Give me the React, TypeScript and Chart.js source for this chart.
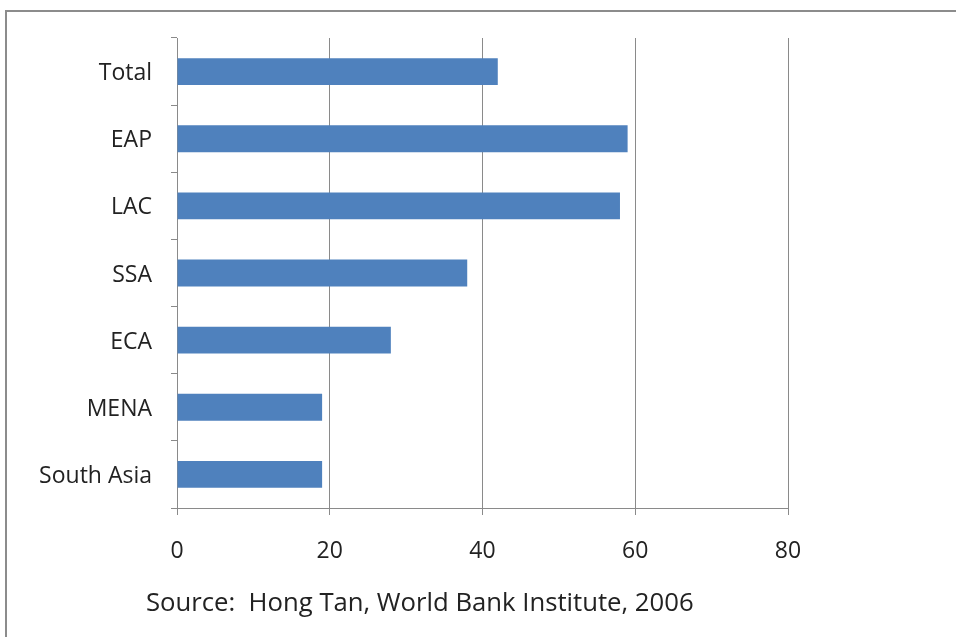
import React, { useEffect, useRef } from "react";
import { Chart, registerables } from "chart.js";

Chart.register(...registerables);

const categories: string[] = ["Total", "EAP", "LAC", "SSA", "ECA", "MENA", "South Asia"];
const values: number[] = [42, 59, 58, 38, 28, 19, 19];
const xTicks: number[] = [0, 20, 40, 60, 80];
const sourceText = "Source:  Hong Tan, World Bank Institute, 2006";

const FONT = "'Open Sans', sans-serif";

export default function App() {
  const ref = useRef<HTMLCanvasElement | null>(null);
  useEffect(() => {
    if (!ref.current) return;
    const chart = new Chart(ref.current, {
      type: "bar",
      data: {
        labels: categories,
        datasets: [
          {
            data: values,
            backgroundColor: "#4F81BD",
            borderWidth: 0,
            barPercentage: 0.4,
            categoryPercentage: 1,
          },
        ],
      },
      options: {
        indexAxis: "y",
        animation: false,
        responsive: false,
        devicePixelRatio: 1,
        layout: { padding: { left: 0, top: 38, right: 168, bottom: 59 } },
        plugins: { legend: { display: false }, tooltip: { enabled: false }, title: { display: false } },
        scales: {
          y: {
            type: "category",
            afterFit: (s: any) => {
              s.width = 177;
            },
            grid: { drawOnChartArea: false, drawTicks: true, tickLength: 6, color: "#8a8a8a", offset: true },
            border: { color: "#8a8a8a", width: 1 },
            ticks: { padding: 19, labelOffset: 2, color: "#222", font: { family: FONT, size: 23 } },
          },
          x: {
            type: "linear",
            min: 0,
            max: 80,
            afterFit: (s: any) => {
              s.height = 70;
            },
            afterBuildTicks: (s: any) => {
              s.ticks = xTicks.map((v) => ({ value: v }));
            },
            grid: { color: "#8a8a8a", tickLength: 7 },
            border: { color: "#8a8a8a", width: 1 },
            ticks: { padding: 23, color: "#222", font: { family: FONT, size: 23 } },
          },
        },
      },
    });
    return () => chart.destroy();
  }, []);
  return (
    <div style={{ position: "absolute", left: 0, top: 0, width: 956, height: 637, overflow: "hidden", background: "#fff" }}>
      <div
        style={{
          position: "absolute",
          left: 5,
          top: 10,
          width: 1000,
          height: 700,
          border: "2px solid #8c8c8c",
          boxSizing: "border-box",
        }}
      />
      <canvas ref={ref} width={956} height={637} style={{ position: "absolute", left: 0, top: 0 }} />
      <div
        style={{
          position: "absolute",
          left: 146,
          top: 586,
          fontFamily: FONT,
          fontSize: 25.7,
          color: "#222",
          whiteSpace: "pre",
          lineHeight: "32px",
        }}
      >
        {sourceText}
      </div>
    </div>
  );
}
